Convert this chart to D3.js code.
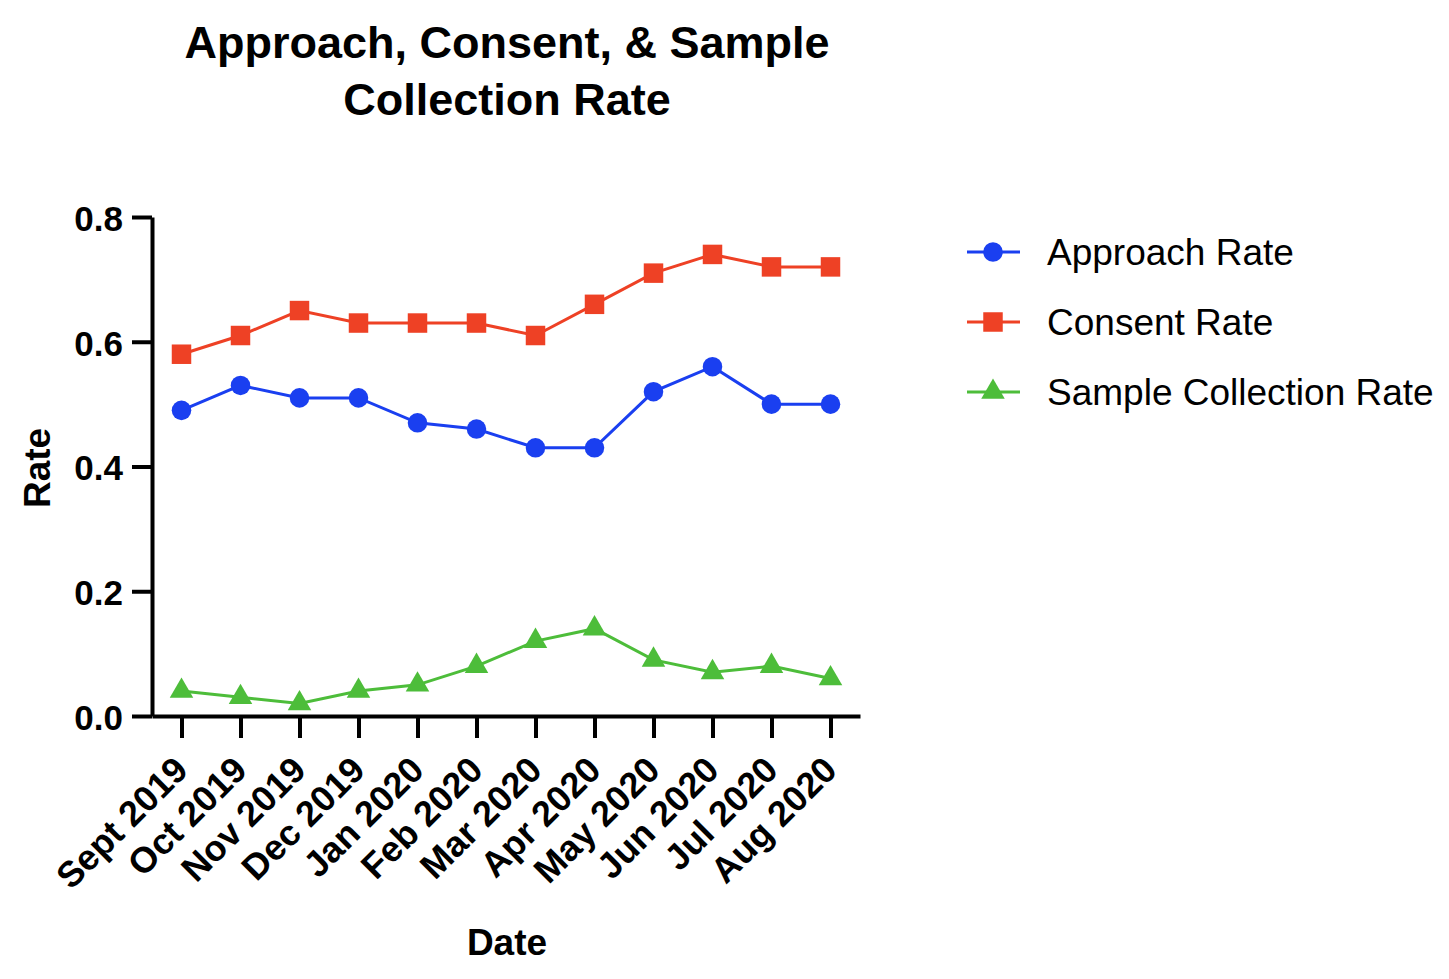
<!DOCTYPE html>
<html>
<head>
<meta charset="utf-8">
<script src="https://cdn.jsdelivr.net/npm/d3@7"></script>
<style>
  body { margin: 0; background: #fff; }
  svg { font-family: 'Liberation Sans', Arial, sans-serif; }
  .axis path, .axis line { stroke: #000; stroke-width: 4px; }
  .axis text { font-family: 'Liberation Sans', Arial, sans-serif; font-weight: bold; fill: #000; }
</style>
</head>
<body>
<div id="chart"></div>
<script>
// data
const months = ['Sept 2019', 'Oct 2019', 'Nov 2019', 'Dec 2019', 'Jan 2020', 'Feb 2020',
  'Mar 2020', 'Apr 2020', 'May 2020', 'Jun 2020', 'Jul 2020', 'Aug 2020'];
const approachRate = [0.49, 0.53, 0.51, 0.51, 0.47, 0.46, 0.43, 0.43, 0.52, 0.56, 0.50, 0.50];
const consentRate = [0.58, 0.61, 0.65, 0.63, 0.63, 0.63, 0.61, 0.66, 0.71, 0.74, 0.72, 0.72];
const sampleRate = [0.04, 0.03, 0.02, 0.04, 0.05, 0.08, 0.12, 0.14, 0.09, 0.07, 0.08, 0.06];
const yTicks = [0, 0.2, 0.4, 0.6, 0.8];

const series = [
  { name: 'Approach Rate', values: approachRate, color: '#1a3ff0', shape: d3.symbolCircle },
  { name: 'Consent Rate', values: consentRate, color: '#ee4125', shape: d3.symbolSquare },
  { name: 'Sample Collection Rate', values: sampleRate, color: '#4dbd3a', shape: d3.symbolTriangle },
];

const width = 1449;
const height = 979;

const $svg = d3.select('#chart').append('svg')
  .attr('width', width)
  .attr('height', height);

// scales
const scaleX = d3.scalePoint().domain(months).range([152, 860]).padding(0.5);
const scaleY = d3.scaleLinear().domain([0, 0.8]).range([716, 217]);

// title
const $title = $svg.append('text')
  .attr('text-anchor', 'middle')
  .attr('font-size', 45)
  .attr('font-weight', 'bold');
$title.append('tspan').attr('x', 507).attr('y', 58).text('Approach, Consent, & Sample');
$title.append('tspan').attr('x', 507).attr('y', 115).text('Collection Rate');

// axes
$svg.append('g')
  .attr('class', 'axis')
  .attr('transform', 'translate(152,0)')
  .call(d3.axisLeft(scaleY).tickValues(yTicks).tickFormat(d3.format('.1f'))
    .tickSize(20).tickSizeOuter(0).tickPadding(9))
  .selectAll('text')
  .attr('font-size', 35)
  .attr('dy', '0.38em');

const $xAxis = $svg.append('g')
  .attr('class', 'axis')
  .attr('transform', 'translate(0,716)')
  .call(d3.axisBottom(scaleX).tickSize(22).tickSizeOuter(0));

$xAxis.selectAll('text')
  .attr('font-size', 36)
  .attr('text-anchor', 'end')
  .attr('x', 0)
  .attr('y', 0)
  .attr('dy', 0)
  .attr('transform', 'translate(8,56) rotate(-45)');

// axis titles
$svg.append('text')
  .attr('x', 507)
  .attr('y', 955)
  .attr('text-anchor', 'middle')
  .attr('font-size', 37)
  .attr('font-weight', 'bold')
  .text('Date');

$svg.append('text')
  .attr('transform', 'translate(50,468) rotate(-90)')
  .attr('text-anchor', 'middle')
  .attr('font-size', 37)
  .attr('font-weight', 'bold')
  .text('Rate');

// lines and markers
const line = d3.line()
  .x((d, i) => scaleX(months[i]))
  .y(d => scaleY(d));

const symbolSize = s => (s === d3.symbolCircle ? 300 : s === d3.symbolSquare ? 380 : 240);

series.forEach(s => {
  const $g = $svg.append('g');
  $g.append('path')
    .attr('d', line(s.values))
    .attr('fill', 'none')
    .attr('stroke', s.color)
    .attr('stroke-width', 3);
  $g.selectAll('path.marker')
    .data(s.values)
    .join('path')
    .attr('class', 'marker')
    .attr('transform', (d, i) => `translate(${scaleX(months[i])},${scaleY(d)})`)
    .attr('d', d3.symbol().type(s.shape).size(symbolSize(s.shape)))
    .attr('fill', s.color);
});

// legend
const $legend = $svg.append('g').attr('transform', 'translate(967,252)');
const $item = $legend.selectAll('g')
  .data(series)
  .join('g')
  .attr('transform', (d, i) => `translate(0,${i * 70})`);
$item.append('line')
  .attr('x1', 0).attr('x2', 53)
  .attr('stroke', d => d.color)
  .attr('stroke-width', 3);
$item.append('path')
  .attr('transform', 'translate(26,0)')
  .attr('d', d => d3.symbol().type(d.shape).size(symbolSize(d.shape))())
  .attr('fill', d => d.color);
$item.append('text')
  .attr('x', 80)
  .attr('dy', '0.35em')
  .attr('font-size', 37)
  .text(d => d.name);
</script>
</body>
</html>
